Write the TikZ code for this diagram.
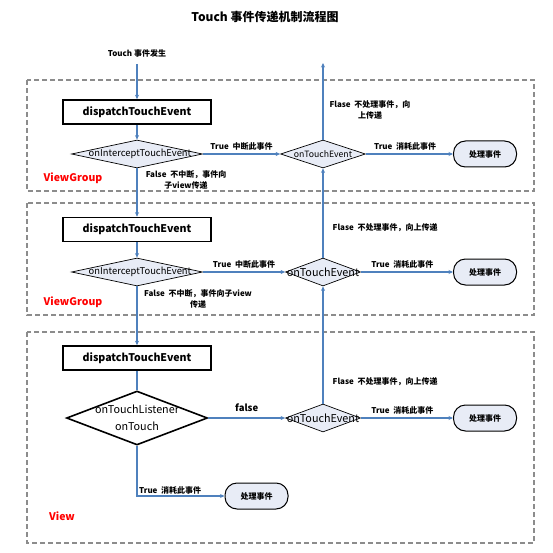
\documentclass[tikz,border=0pt]{standalone}
\usepackage{fontspec}
\setmainfont{Noto Sans CJK SC}
\usetikzlibrary{shapes.geometric,arrows.meta}
\definecolor{flowblue}{RGB}{79,129,189}
\definecolor{flowfill}{RGB}{232,236,246}
\definecolor{zonegray}{RGB}{140,140,140}
\begin{document}
\begin{tikzpicture}[x=1pt,y=-1pt,
  flow/.style={draw=flowblue,line width=1.1pt,-{Stealth[length=4.5pt,width=4pt]}},
  flowline/.style={draw=flowblue,line width=1.1pt},
  zone/.style={draw=zonegray,line width=1.1pt,dash pattern=on 5pt off 3pt},
  dispbox/.style={draw,line width=1.6pt,minimum width=148pt,minimum height=24pt,inner sep=0pt,font=\fontsize{10.6}{12}\selectfont\bfseries},
  decide/.style={diamond,draw,fill=flowfill,line width=0.7pt,inner sep=0pt,minimum height=28pt},
  endbox/.style={draw,fill=flowfill,line width=1pt,rounded corners=12pt,minimum width=63pt,minimum height=26pt,inner sep=0pt,font=\fontsize{8}{9}\selectfont\bfseries},
  tlabel/.style={font=\fontsize{8}{10.5}\selectfont\bfseries,inner sep=1.5pt},
  tag/.style={text=red,font=\fontsize{10.5}{12}\selectfont\bfseries}]
\pgfmathsetmacro{\cx}{137}
\pgfmathsetmacro{\ox}{323}
\pgfmathsetmacro{\ex}{485}
\useasboundingbox (0,0) rectangle (553,553);
\node[font=\fontsize{12}{14}\selectfont\bfseries] (title) at (265,17) {Touch 事件传递机制流程图};
\foreach \t/\b in {80/191,203/315,332/543}{\draw[zone](27,\t) rectangle (534,\b);}
\node[tlabel] (src) at (\cx,53) {Touch 事件发生};
\coordinate (in) at (\cx,64);
\coordinate (out) at (\ox,63);
\foreach \i/\y in {1/112,2/229.5,3/358}{\node[dispbox] (d\i) at (\cx,\y) {dispatchTouchEvent};}
\foreach \i/\y in {1/154,2/272}{\node[decide,minimum width=131pt,label={[font=\fontsize{9.4}{10}\selectfont,xshift=3pt]center:onInterceptTouchEvent}] (i\i) at (\cx,\y) {};}
\foreach \i/\y/\w/\f in {1/154/85/8.7,2/272/75/10.8,3/418/75/10.8}{\node[decide,minimum width=\w pt,label={[font=\fontsize{\f}{\f}\selectfont]center:onTouchEvent}] (t\i) at (\ox,\y) {};}
\foreach \i/\y in {1/154,2/272,3/418}{\node[endbox] (e\i) at (\ex,\y) {处理事件};}
\node[decide,fill=white,line width=1.6pt,minimum width=141pt,minimum height=54pt,label={[align=center,font=\fontsize{10.8}{17}\selectfont]center:onTouchListener\\onTouch}] (l3) at (\cx,418) {};
\node[endbox] (e4) at (256.5,496) {处理事件};
\node[tag] (g1) at (73,178) {ViewGroup};
\node[tag] (g2) at (73,302) {ViewGroup};
\node[tag] (g3) at (62,516) {View};
\draw[flow](in)--(d1.north);
\foreach \i in {1,2}{
\draw[flow](d\i.south)--(i\i.north);
\draw[flow](i\i.east)--(t\i.west)node[tlabel,midway,above=2pt]{True~~中断此事件};}
\foreach \i in {1,2,3}{\draw[flow](t\i.east)--(e\i.west)node[tlabel,pos=0.45,above=2pt]{True~~消耗此事件};}
\draw[flow](i1.south)--(d2.north);
\draw[flow](i2.south)--(d3.north);
\node[tlabel,align=center] (f1) at (186,180) {False~~不中断，事件向\\子view传递};
\node[tlabel,align=center] (f2) at (198,299) {False~~不中断，事件向子view\\传递};
\draw[flow](t1.north)--(out);
\draw[flow](t2.north)--(t1.south);
\draw[flow](t3.north)--(t2.south);
\node[tlabel,align=center] (u1) at (370,110) {Flase~~不处理事件，向\\上传递};
\node[tlabel,anchor=west] (u2) at (331,228) {Flase~~不处理事件，向上传递};
\node[tlabel,anchor=west] (u3) at (331,382) {Flase~~不处理事件，向上传递};
\draw[flowline](d3.south)--(l3.north);
\draw[flow](l3.east)--(t3.west)node[midway,above=2pt,font=\fontsize{9.5}{10}\selectfont\bfseries]{false};
\draw[flow](l3.south)|-(e4.west)node[tlabel,pos=0.5,anchor=south west]{True~~消耗此事件};
\end{tikzpicture}
\end{document}
